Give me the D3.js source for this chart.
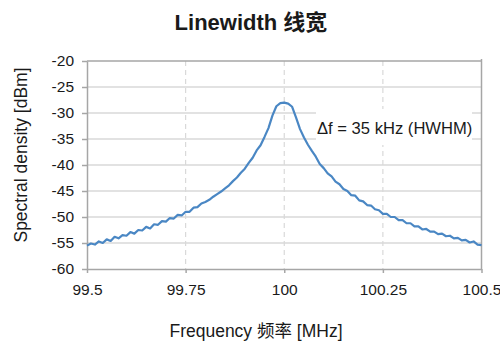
<!DOCTYPE html>
<html>
<head>
<meta charset="utf-8">
<script src="https://cdn.jsdelivr.net/npm/d3@7/dist/d3.min.js"></script>
<style>
  html, body { margin: 0; padding: 0; background: #fff; }
  svg { display: block; }
  text { font-family: "Liberation Sans", Arial, "Noto Sans CJK SC", sans-serif; fill: #1a1a1a; }
</style>
</head>
<body>
<svg id="chart" width="500" height="354"></svg>
<script>
// ---- data ----
const title = "Linewidth 线宽";
const xTitle = "Frequency 频率 [MHz]";
const yTitle = "Spectral density [dBm]";
const annotation = "Δf = 35 kHz (HWHM)";

const xTicks = [99.5, 99.75, 100, 100.25, 100.5];
const xTickLabels = ["99.5", "99.75", "100", "100.25", "100.5"];
const yTicks = [-60, -55, -50, -45, -40, -35, -30, -25, -20];
const yTickLabels = ["-60", "-55", "-50", "-45", "-40", "-35", "-30", "-25", "-20"];

const frequency = [
  99.50, 99.51, 99.52, 99.53, 99.54, 99.55, 99.56, 99.57, 99.58, 99.59,
  99.60, 99.61, 99.62, 99.63, 99.64, 99.65, 99.66, 99.67, 99.68, 99.69,
  99.70, 99.71, 99.72, 99.73, 99.74, 99.75, 99.76, 99.77, 99.78, 99.79,
  99.80, 99.81, 99.82, 99.83, 99.84, 99.85, 99.86, 99.87, 99.88, 99.89,
  99.90, 99.91, 99.92, 99.93, 99.94, 99.95, 99.96, 99.97, 99.98, 99.99,
  100.00, 100.01, 100.02, 100.03, 100.04, 100.05, 100.06, 100.07, 100.08, 100.09,
  100.10, 100.11, 100.12, 100.13, 100.14, 100.15, 100.16, 100.17, 100.18, 100.19,
  100.20, 100.21, 100.22, 100.23, 100.24, 100.25, 100.26, 100.27, 100.28, 100.29,
  100.30, 100.31, 100.32, 100.33, 100.34, 100.35, 100.36, 100.37, 100.38, 100.39,
  100.40, 100.41, 100.42, 100.43, 100.44, 100.45, 100.46, 100.47, 100.48, 100.49,
  100.50
];
const density = [
  -55.5, -55.1, -55.3, -54.7, -55.0, -54.3, -54.6, -53.8, -54.1, -53.5,
  -53.6, -52.9, -53.2, -52.5, -52.6, -51.9, -52.2, -51.4, -51.5, -50.8,
  -50.9, -50.2, -50.3, -49.6, -49.7, -49.0, -49.0, -48.2, -48.1, -47.4,
  -47.1, -46.7, -46.1, -45.6, -45.1, -44.5, -43.9, -43.1, -42.4, -41.5,
  -40.7, -39.6, -38.6, -37.2, -36.2, -34.6, -32.9, -30.5, -28.7, -28.1,
  -28.0, -28.2, -28.8, -30.9, -33.1, -34.7, -36.1, -37.3, -38.4, -39.8,
  -40.6, -41.6, -42.2, -43.2, -43.7, -44.6, -45.0, -45.8, -45.9, -46.8,
  -47.0, -47.7, -47.8, -48.5, -48.7, -49.4, -49.4, -50.0, -50.0, -50.6,
  -50.6, -51.2, -51.2, -51.8, -51.8, -52.4, -52.3, -52.8, -52.8, -53.3,
  -53.2, -53.7, -53.6, -54.1, -54.0, -54.5, -54.4, -54.9, -54.7, -55.3,
  -55.4
];

// ---- drawing ----
const svg = d3.select("#chart");
const plotLeft = 87, plotRight = 481.5, plotTop = 61, plotBottom = 269;

const x = d3.scaleLinear().domain([99.5, 100.5]).range([plotLeft, plotRight]);
const y = d3.scaleLinear().domain([-60, -20]).range([plotBottom, plotTop]);

const axisColor = "#a6a6a6";
const gridColor = "#d9d9d9";

// horizontal gridlines
svg.append("g").selectAll("line")
  .data(yTicks.filter(v => v > -60 && v < -20))
  .join("line")
  .attr("x1", plotLeft).attr("x2", plotRight)
  .attr("y1", d => y(d)).attr("y2", d => y(d))
  .attr("stroke", gridColor).attr("stroke-width", 1.5);

// vertical dashed gridlines
svg.append("g").selectAll("line")
  .data(xTicks.filter(v => v > 99.5 && v < 100.5))
  .join("line")
  .attr("x1", d => x(d)).attr("x2", d => x(d))
  .attr("y1", plotTop).attr("y2", plotBottom)
  .attr("stroke", gridColor).attr("stroke-width", 1.2)
  .attr("stroke-dasharray", "5,4");

// frame: top & right border
svg.append("line").attr("x1", plotLeft).attr("x2", plotRight).attr("y1", plotTop).attr("y2", plotTop)
  .attr("stroke", axisColor).attr("stroke-width", 1.5);
svg.append("line").attr("x1", plotRight).attr("x2", plotRight).attr("y1", plotTop - 2).attr("y2", plotBottom)
  .attr("stroke", axisColor).attr("stroke-width", 1.5);

// axes
const yAxis = d3.axisLeft(y).tickValues(yTicks)
  .tickFormat((d, i) => yTickLabels[i]).tickSizeInner(5).tickSizeOuter(0).tickPadding(8);
const gy = svg.append("g").attr("transform", `translate(${plotLeft},0)`).call(yAxis);
gy.select(".domain").attr("stroke", axisColor).attr("stroke-width", 1.5);
gy.selectAll(".tick line").attr("stroke", axisColor).attr("stroke-width", 1.5);
gy.selectAll(".tick text").attr("font-size", 15.5).attr("fill", "#1a1a1a")
  .attr("font-family", "Liberation Sans, Arial, sans-serif");

const xAxis = d3.axisBottom(x).tickValues(xTicks)
  .tickFormat((d, i) => xTickLabels[i]).tickSizeInner(4).tickSizeOuter(0).tickPadding(11);
const gx = svg.append("g").attr("transform", `translate(0,${plotBottom})`).call(xAxis);
gx.select(".domain").attr("stroke", axisColor).attr("stroke-width", 1.5);
gx.selectAll(".tick line").attr("stroke", axisColor).attr("stroke-width", 1.5);
gx.selectAll(".tick text").attr("font-size", 15.5).attr("fill", "#1a1a1a")
  .attr("font-family", "Liberation Sans, Arial, sans-serif");

// annotation box (white background)
svg.append("rect").attr("x", 316).attr("y", 109).attr("width", 156).attr("height", 36)
  .attr("fill", "#fff");
svg.append("text").attr("x", 317).attr("y", 134)
  .attr("font-size", 16.6).text(annotation);

// data line
const line = d3.line().x(d => x(d[0])).y(d => y(d[1]));
svg.append("path")
  .datum(frequency.map((f, i) => [f, density[i]]))
  .attr("d", line)
  .attr("fill", "none")
  .attr("stroke", "#4a87c4")
  .attr("stroke-width", 2.2)
  .attr("stroke-linejoin", "round");

// titles
svg.append("text").attr("x", 251).attr("y", 30).attr("text-anchor", "middle")
  .attr("font-size", 22).attr("font-weight", "bold").text(title);
svg.append("text").attr("x", 256).attr("y", 337).attr("text-anchor", "middle")
  .attr("font-size", 17.5).text(xTitle);
svg.append("text").attr("transform", "translate(27,155) rotate(-90)")
  .attr("text-anchor", "middle").attr("font-size", 17.5).text(yTitle);
</script>
</body>
</html>
